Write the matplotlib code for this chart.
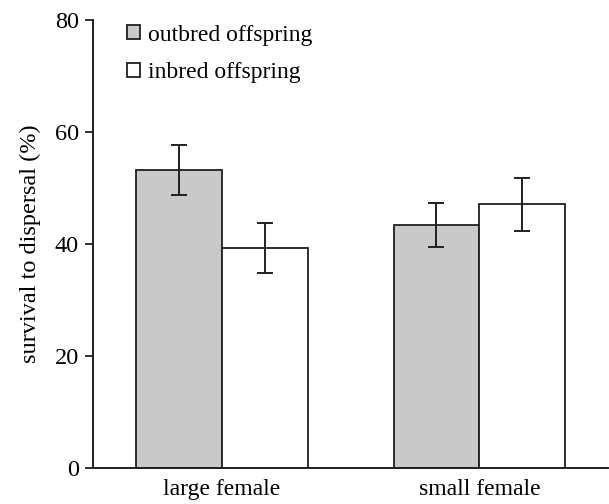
import matplotlib.pyplot as plt
import numpy as np

plt.rcParams["font.family"] = ["Liberation Serif", "DejaVu Serif"]

groups = ["large female", "small female"]
series = ["outbred offspring", "inbred offspring"]
outbred = [53.2, 43.4]
outbred_err = [4.4, 4.0]
inbred = [39.3, 47.1]
inbred_err = [4.5, 4.75]

ink = "#231f20"
fig = plt.figure(figsize=(6.09, 5.04), dpi=100)
ax = fig.add_axes([0.1527, 0.0714, 0.846, 0.8889])

x = np.arange(len(groups))
w = 1 / 3
err_kw = dict(ecolor=ink, elinewidth=1.4, capsize=6, capthick=1.4)
ax.bar(x - w / 2, outbred, w, yerr=outbred_err, color="#c8c9cb", edgecolor=ink,
       linewidth=1.3, label=series[0], error_kw=err_kw)
ax.bar(x + w / 2, inbred, w, yerr=inbred_err, color="white", edgecolor=ink,
       linewidth=1.3, label=series[1], error_kw=err_kw)

ax.set_xlim(-0.5, 1.5)
ax.set_ylim(0, 80)
ax.set_yticks([0, 20, 40, 60, 80])
ax.set_xticks(x)
ax.set_xticklabels(groups, fontsize=17)
ax.tick_params(axis="x", length=0, pad=8)
ax.tick_params(axis="y", length=6, width=1.3, color=ink, labelsize=17.5, pad=4)
for s in ["top", "right"]:
    ax.spines[s].set_visible(False)
for s in ["left", "bottom"]:
    ax.spines[s].set_linewidth(1.4)
    ax.spines[s].set_color(ink)
ax.set_ylabel("survival to dispersal (%)", fontsize=17.5, labelpad=10)

ax.legend(loc="upper left", bbox_to_anchor=(0.025, 1.037), frameon=False, fontsize=17,
          handlelength=0.55, handleheight=0.55, handletextpad=0.35, labelspacing=0.7)

fig.savefig("out.png", dpi=100)
